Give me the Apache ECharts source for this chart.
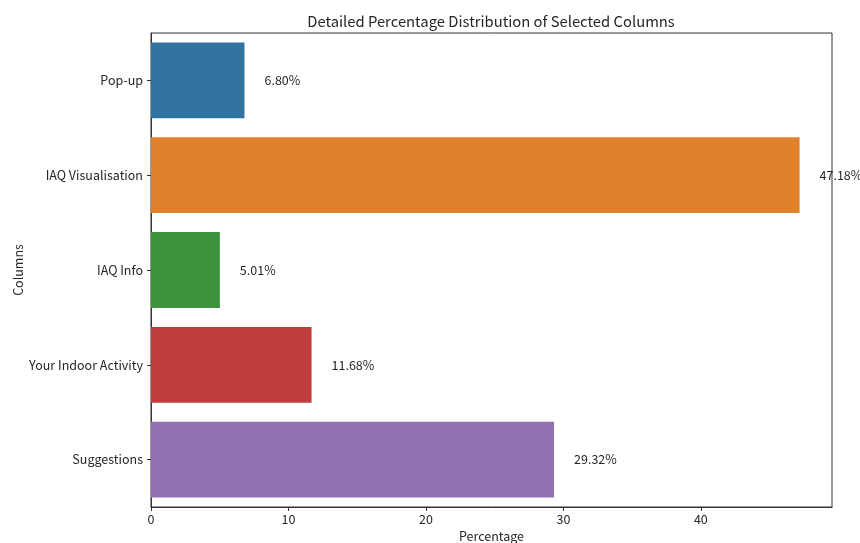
<!DOCTYPE html>
<html>
<head>
<meta charset="utf-8">
<script src="https://cdn.jsdelivr.net/npm/echarts@6/dist/echarts.min.js"></script>
<style>
  html, body { margin: 0; padding: 0; background: #fff; }
  #chart { width: 860px; height: 543px; }
</style>
</head>
<body>
<div id="chart"></div>
<script>
// Share of each selected column, in percent
const categories = ['Pop-up', 'IAQ Visualisation', 'IAQ Info', 'Your Indoor Activity', 'Suggestions'];
const percentages = [6.80, 47.18, 5.01, 11.68, 29.32];
const barColors = ['#3274a1', '#e1812c', '#3a923a', '#c03d3e', '#9372b2'];
const xTicks = [0, 10, 20, 30, 40];

const FONT = '"Noto Sans CJK SC", "Noto Sans", sans-serif';
const INK = '#262626';

const chart = echarts.init(document.getElementById('chart'), null, { renderer: 'canvas' });

chart.setOption({
  backgroundColor: '#ffffff',
  animation: false,
  textStyle: { fontFamily: FONT },
  title: {
    text: 'Detailed Percentage Distribution of Selected Columns',
    left: 486,
    top: 9,
    textAlign: 'center',
    textStyle: { fontFamily: FONT, fontSize: 14.8, fontWeight: 'normal', color: INK }
  },
  grid: {
    left: 151, right: 28, top: 33, bottom: 36,
    outerBoundsMode: 'none',
    containLabel: false,
    show: true, borderColor: '#333', borderWidth: 1, backgroundColor: 'transparent'
  },
  xAxis: {
    type: 'value',
    min: 0,
    max: Math.max(...percentages) * 1.05,
    interval: 10,
    name: 'Percentage',
    nameLocation: 'middle',
    nameGap: 23,
    nameMoveOverlap: false,
    nameTextStyle: { fontFamily: FONT, fontSize: 12.5, color: INK },
    splitLine: { show: false },
    axisLine: { show: true, lineStyle: { color: '#333', width: 1 } },
    axisTick: { show: true, length: 4, lineStyle: { color: '#333' } },
    axisLabel: {
      fontFamily: FONT, fontSize: 12.5, color: INK, margin: 6,
      showMaxLabel: false,
      formatter: v => (xTicks.includes(v) ? String(v) : '')
    }
  },
  yAxis: {
    type: 'category',
    data: categories,
    inverse: true,
    name: 'Columns',
    nameLocation: 'middle',
    nameRotate: 90,
    nameGap: 126,
    nameMoveOverlap: false,
    nameTextStyle: { fontFamily: FONT, fontSize: 12.5, color: INK },
    axisLine: { show: true, lineStyle: { color: '#333', width: 1 } },
    axisTick: { show: true, alignWithLabel: true, length: 4, lineStyle: { color: '#333' } },
    axisLabel: { fontFamily: FONT, fontSize: 12.5, color: INK, margin: 8 },
    splitLine: { show: false }
  },
  series: [{
    type: 'bar',
    barCategoryGap: '20%',
    data: percentages.map((v, i) => ({
      value: v,
      itemStyle: { color: barColors[i] }
    })),
    label: {
      show: true,
      position: 'right',
      distance: 20,
      fontFamily: FONT,
      fontSize: 12.5,
      color: INK,
      formatter: p => p.value.toFixed(2) + '%'
    }
  }]
});
</script>
</body>
</html>
